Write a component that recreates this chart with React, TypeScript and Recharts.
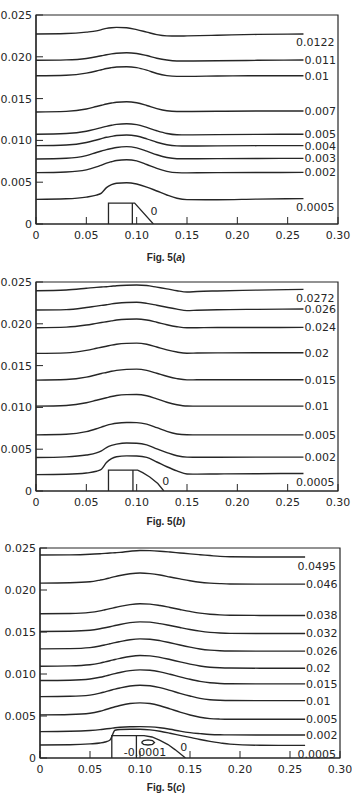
import React from 'react';
import { LineChart, Line, XAxis, YAxis, ReferenceArea, ReferenceDot } from 'recharts';

// ---------- shared axis data ----------
const xTicks = [0, 0.05, 0.1, 0.15, 0.2, 0.25, 0.3];
const xTickLabels = ['0', '0.05', '0.10', '0.15', '0.20', '0.25', '0.30'];
const yTicks = [0, 0.005, 0.01, 0.015, 0.02, 0.025];
const yTickLabels = ['0', '0.005', '0.010', '0.015', '0.020', '0.025'];

// ---------- Fig. 5(a) ----------
const xA = [0, 0.03, 0.05, 0.06, 0.065, 0.07, 0.075, 0.08, 0.09, 0.1, 0.11, 0.12, 0.13, 0.14, 0.15, 0.18, 0.22, 0.2657];
const labelsA = ['0.0122', '0.011', '0.01', '0.007', '0.005', '0.004', '0.003', '0.002', '0.0005'];
const a0122 = [0.02273, 0.02278, 0.02295, 0.0231, 0.02325, 0.0234, 0.02348, 0.02352, 0.02348, 0.02325, 0.02295, 0.02265, 0.0225, 0.02248, 0.0225, 0.02258, 0.02268, 0.02273];
const a011 = [0.01958, 0.01963, 0.0198, 0.02, 0.02012, 0.02025, 0.02035, 0.02043, 0.02049, 0.0204, 0.02015, 0.01983, 0.01961, 0.0195, 0.01949, 0.01952, 0.01958, 0.01961];
const a01 = [0.01774, 0.0178, 0.01805, 0.0183, 0.01845, 0.0186, 0.0187, 0.01878, 0.01881, 0.0187, 0.0184, 0.018, 0.01775, 0.01766, 0.01766, 0.0177, 0.01774, 0.01774];
const a007 = [0.0134, 0.01347, 0.01375, 0.01405, 0.0142, 0.01435, 0.01447, 0.01457, 0.01463, 0.0145, 0.01418, 0.0138, 0.01354, 0.01346, 0.01346, 0.01349, 0.01351, 0.01352];
const a005 = [0.01073, 0.01082, 0.0111, 0.01138, 0.01153, 0.01168, 0.01181, 0.01192, 0.012, 0.01188, 0.01155, 0.01115, 0.01083, 0.01068, 0.01066, 0.01069, 0.01072, 0.01073];
const a004 = [0.00937, 0.00945, 0.00975, 0.01005, 0.01021, 0.01037, 0.01048, 0.01058, 0.01065, 0.01052, 0.01018, 0.00978, 0.00948, 0.00935, 0.00933, 0.00935, 0.00937, 0.00937];
const a003 = [0.00777, 0.00786, 0.00818, 0.00855, 0.00873, 0.0089, 0.00903, 0.00915, 0.00925, 0.0091, 0.00872, 0.00828, 0.00795, 0.00781, 0.0078, 0.00782, 0.00784, 0.00785];
const a002 = [0.00614, 0.00622, 0.00648, 0.00683, 0.00705, 0.00728, 0.00745, 0.0076, 0.00769, 0.00755, 0.00712, 0.00665, 0.0063, 0.00614, 0.00612, 0.00614, 0.00616, 0.00617];
const a0005 = [0.00295, 0.00302, 0.00322, 0.00345, 0.0037, 0.00435, 0.0047, 0.00488, 0.00494, 0.00478, 0.00442, 0.00395, 0.00347, 0.00308, 0.00292, 0.0029, 0.00298, 0.00303];
const obstacleXA = [0.072, 0.072, 0.098, 0.1166];
const obstacleYA = [0, 0.0025, 0.0025, 0];
const dividerXA = [0.0957, 0.0957];
const dividerYA = [0, 0.0025];

// ---------- Fig. 5(b) ----------
const xB = [0, 0.03, 0.05, 0.06, 0.065, 0.07, 0.075, 0.08, 0.09, 0.1, 0.11, 0.12, 0.13, 0.14, 0.15, 0.16, 0.18, 0.22, 0.2657];
const labelsB = ['0.0272', '0.026', '0.024', '0.02', '0.015', '0.01', '0.005', '0.002', '0.0005'];
const b0272 = [0.02396, 0.02405, 0.02425, 0.02436, 0.0244, 0.02444, 0.0245, 0.02456, 0.02462, 0.02464, 0.02458, 0.02438, 0.02418, 0.02396, 0.0238, 0.02386, 0.02393, 0.02403, 0.02412];
const b026 = [0.02165, 0.0217, 0.02195, 0.02212, 0.0222, 0.02228, 0.02238, 0.02246, 0.02255, 0.02257, 0.02245, 0.02222, 0.02198, 0.02175, 0.02158, 0.02162, 0.02168, 0.02173, 0.02177];
const b024 = [0.01953, 0.0196, 0.01985, 0.02005, 0.02015, 0.02025, 0.02035, 0.02045, 0.02055, 0.02057, 0.02045, 0.02018, 0.01988, 0.01965, 0.01952, 0.01953, 0.01955, 0.01956, 0.01957];
const b02 = [0.01646, 0.01652, 0.01682, 0.01707, 0.0172, 0.01732, 0.01745, 0.01755, 0.01766, 0.01769, 0.01755, 0.01722, 0.01688, 0.01662, 0.01648, 0.0165, 0.01652, 0.01653, 0.01654];
const b015 = [0.01326, 0.01333, 0.01362, 0.0139, 0.01405, 0.01418, 0.01432, 0.01443, 0.01455, 0.01458, 0.01443, 0.01408, 0.01372, 0.01344, 0.01329, 0.0133, 0.0133, 0.0133, 0.0133];
const b01 = [0.01015, 0.01023, 0.01055, 0.01085, 0.011, 0.01115, 0.0113, 0.01142, 0.01153, 0.01155, 0.0114, 0.01102, 0.01062, 0.01032, 0.01016, 0.01015, 0.01015, 0.01015, 0.01015];
const b005 = [0.00671, 0.00678, 0.0071, 0.00745, 0.00765, 0.00785, 0.008, 0.00811, 0.00819, 0.00818, 0.008, 0.00758, 0.00713, 0.00682, 0.00672, 0.00671, 0.00671, 0.00671, 0.00671];
const b002 = [0.004, 0.00408, 0.0043, 0.00455, 0.0048, 0.0052, 0.00545, 0.0056, 0.00575, 0.00572, 0.00552, 0.00505, 0.0046, 0.00422, 0.00405, 0.00404, 0.00404, 0.00405, 0.00405];
const b0005 = [0.00196, 0.002, 0.00215, 0.00236, 0.0026, 0.0034, 0.00388, 0.0041, 0.0042, 0.00418, 0.00402, 0.00347, 0.0029, 0.0024, 0.00203, 0.00202, 0.00204, 0.00207, 0.0021];
const obstacleXB = [0.072, 0.072, 0.101, 0.106, 0.113, 0.121, 0.127];
const obstacleYB = [0, 0.0025, 0.0025, 0.0022, 0.00168, 0.0009, 0];
const dividerXB = [0.0963, 0.0963];
const dividerYB = [0, 0.0025];

// ---------- Fig. 5(c) ----------
const xC = [0, 0.03, 0.05, 0.06, 0.065, 0.07, 0.075, 0.08, 0.09, 0.1, 0.11, 0.12, 0.13, 0.14, 0.15, 0.16, 0.17, 0.18, 0.19, 0.22, 0.2651];
const labelsC = ['0.0495', '0.046', '0.038', '0.032', '0.026', '0.02', '0.015', '0.01', '0.005', '0.002', '0.0005'];
const c0495 = [0.02416, 0.02418, 0.02425, 0.02432, 0.02436, 0.0244, 0.02444, 0.02448, 0.02462, 0.02471, 0.02469, 0.02462, 0.02452, 0.02441, 0.0243, 0.0242, 0.0241, 0.024, 0.02395, 0.02392, 0.02392];
const c046 = [0.02082, 0.02086, 0.02098, 0.02118, 0.0213, 0.02145, 0.0216, 0.02173, 0.02193, 0.02202, 0.02195, 0.02178, 0.02155, 0.02132, 0.0211, 0.02092, 0.02082, 0.02076, 0.02072, 0.0207, 0.0207];
const c038 = [0.01717, 0.0172, 0.01733, 0.01752, 0.01765, 0.01778, 0.01792, 0.01805, 0.01826, 0.01836, 0.01832, 0.01815, 0.01792, 0.01768, 0.01745, 0.01725, 0.01712, 0.01704, 0.017, 0.01697, 0.01697];
const c032 = [0.01506, 0.01509, 0.0152, 0.01538, 0.0155, 0.01563, 0.01577, 0.0159, 0.01611, 0.01621, 0.01617, 0.016, 0.01577, 0.01553, 0.0153, 0.0151, 0.01496, 0.01488, 0.01484, 0.01482, 0.01482];
const c026 = [0.01299, 0.01302, 0.01314, 0.01333, 0.01346, 0.0136, 0.01374, 0.01386, 0.01408, 0.01418, 0.01414, 0.01397, 0.01372, 0.01345, 0.0132, 0.01298, 0.01284, 0.01277, 0.01274, 0.01272, 0.01272];
const c02 = [0.01093, 0.01097, 0.0111, 0.0113, 0.01144, 0.01158, 0.01173, 0.01186, 0.01209, 0.0122, 0.01216, 0.01198, 0.01172, 0.01144, 0.01118, 0.01096, 0.01081, 0.01074, 0.01071, 0.01069, 0.01069];
const c015 = [0.00922, 0.00926, 0.0094, 0.00961, 0.00975, 0.0099, 0.01005, 0.01018, 0.0104, 0.01049, 0.01044, 0.01025, 0.00997, 0.00966, 0.00937, 0.00912, 0.00895, 0.00887, 0.00884, 0.00882, 0.00882];
const c01 = [0.00731, 0.00735, 0.00749, 0.00772, 0.00788, 0.00804, 0.0082, 0.00834, 0.00857, 0.00866, 0.0086, 0.00838, 0.00805, 0.0077, 0.00738, 0.0071, 0.00694, 0.00687, 0.00684, 0.00683, 0.00683];
const c005 = [0.00513, 0.00518, 0.00533, 0.00557, 0.00574, 0.00592, 0.0061, 0.00625, 0.00648, 0.00656, 0.00648, 0.00622, 0.00585, 0.00546, 0.00512, 0.00485, 0.00469, 0.00463, 0.00461, 0.00461, 0.00461];
const c002 = [0.00314, 0.00318, 0.00328, 0.00338, 0.00345, 0.00352, 0.0036, 0.00366, 0.00372, 0.00373, 0.0037, 0.0036, 0.00342, 0.0032, 0.00302, 0.0029, 0.0028, 0.00276, 0.00275, 0.00274, 0.00274];
const c0005 = [0.00155, 0.00158, 0.00168, 0.00178, 0.0019, 0.00215, 0.0033, 0.0034, 0.00342, 0.00342, 0.00335, 0.00318, 0.00295, 0.0027, 0.00245, 0.0022, 0.00198, 0.0018, 0.00165, 0.00152, 0.0015];
const obstacleXC = [0.0718, 0.0718, 0.104, 0.112, 0.12, 0.128, 0.135, 0.1415, 0.1455];
const obstacleYC = [0, 0.00266, 0.00266, 0.0025, 0.0021, 0.0016, 0.001, 0.0004, 0];
const dividerXC = [0.0964, 0.0964];
const dividerYC = [0, 0.00266];
const loopXC = [0.1015, 0.1035, 0.108, 0.1125, 0.1145, 0.1125, 0.108, 0.1035, 0.1015];
const loopYC = [0.00185, 0.00207, 0.00215, 0.00207, 0.00185, 0.00163, 0.00155, 0.00163, 0.00185];

// ---------- styling ----------
const INK = '#262626';
const FONT = '"DejaVu Sans", sans-serif';
const FS = 11;

const toPoints = (xs: number[], ys: number[]) => xs.map((x, i) => ({ x, y: ys[i] }));

function XTick(props: any) {
  const { x, y, index } = props;
  return (
    <g>
      <line x1={x} x2={x} y1={y - 7} y2={y - 14} stroke={INK} strokeWidth={1} />
      <text x={x} y={y} dy="0.71em" textAnchor="middle" fontSize={FS} fill={INK} fontFamily={FONT}>
        {xTickLabels[index]}
      </text>
    </g>
  );
}

function YTick(props: any) {
  const { x, y, index } = props;
  return (
    <g>
      <line x1={x + 4} x2={x + 11} y1={y} y2={y} stroke={INK} strokeWidth={1} />
      <text x={x} y={y} dy="0.36em" textAnchor="end" fontSize={FS} fill={INK} fontFamily={FONT}>
        {yTickLabels[index]}
      </text>
    </g>
  );
}

function endLabel(text: string, below: boolean) {
  return (p: any) => {
    const { cx, cy } = p;
    if (below) {
      return (
        <text x={cx + 31} y={cy + 8.5} dy="0.36em" textAnchor="end" fontSize={FS} fill={INK} fontFamily={FONT}>
          {text}
        </text>
      );
    }
    return (
      <text x={cx + 1} y={cy} dy="0.36em" textAnchor="start" fontSize={FS} fill={INK} fontFamily={FONT}>
        {text}
      </text>
    );
  };
}

function noteLabel(text: string) {
  return (p: any) => (
    <text x={p.cx} y={p.cy} dy="0.36em" textAnchor="middle" fontSize={FS} fill={INK} fontFamily={FONT}>
      {text}
    </text>
  );
}

type PanelProps = {
  top: number;
  plotH: number;
  leftW: number;
  rightM: number;
  xs: number[];
  series: number[][];
  labels: string[];
  shapes: { x: number[]; y: number[] }[];
  notes: { x: number; y: number; text: string }[];
};

function Panel({ top, plotH, leftW, rightM, xs, series, labels, shapes, notes }: PanelProps) {
  const H = 15 + plotH + 30;
  const last = xs.length - 1;
  return (
    <div style={{ position: 'absolute', left: 0, top, width: 352, height: H }}>
      <LineChart width={352} height={H} margin={{ top: 15, right: rightM, bottom: 0, left: 0 }} style={{ fontFamily: FONT }}>
        <XAxis
          dataKey="x"
          type="number"
          domain={[0, 0.3]}
          ticks={xTicks}
          interval={0}
          tick={<XTick />}
          tickLine={false}
          tickSize={0}
          tickMargin={7}
          height={30}
          axisLine={{ stroke: INK, strokeWidth: 1.2 }}
          allowDataOverflow
        />
        <YAxis
          type="number"
          domain={[0, 0.025]}
          ticks={yTicks}
          interval={0}
          tick={<YTick />}
          tickLine={false}
          tickSize={0}
          tickMargin={4}
          width={leftW}
          axisLine={{ stroke: INK, strokeWidth: 1.2 }}
          allowDataOverflow
        />
        <ReferenceArea x1={0} x2={0.3} y1={0} y2={0.025} fill="none" stroke={INK} strokeWidth={1.2} />
        {series.map((ys, i) => (
          <Line
            key={'s' + i}
            data={toPoints(xs, ys)}
            dataKey="y"
            type="monotone"
            stroke={INK}
            strokeWidth={1.4}
            dot={false}
            activeDot={false}
            isAnimationActive={false}
          />
        ))}
        {shapes.map((s, i) => (
          <Line
            key={'o' + i}
            data={toPoints(s.x, s.y)}
            dataKey="y"
            type="linear"
            stroke={INK}
            strokeWidth={1.3}
            dot={false}
            activeDot={false}
            isAnimationActive={false}
          />
        ))}
        {series.map((ys, i) => (
          <ReferenceDot
            key={'l' + i}
            x={xs[last]}
            y={ys[last]}
            r={0}
            shape={endLabel(labels[i], i === 0 || i === series.length - 1)}
          />
        ))}
        {notes.map((n, i) => (
          <ReferenceDot key={'n' + i} x={n.x} y={n.y} r={0} shape={noteLabel(n.text)} />
        ))}
      </LineChart>
    </div>
  );
}

function Title({ top, tag }: { top: number; tag: string }) {
  return (
    <div
      style={{
        position: 'absolute',
        left: 0,
        width: 332,
        top,
        height: 12,
        lineHeight: '12px',
        textAlign: 'center',
        fontFamily: '"Liberation Sans", Arial, sans-serif',
        fontWeight: 'bold',
        fontSize: 10,
        color: INK,
      }}
    >
      Fig. 5(<i>{tag}</i>)
    </div>
  );
}

export default function App() {
  return (
    <div style={{ position: 'absolute', left: 0, top: 0, width: 352, height: 793, background: '#fff', overflow: 'hidden' }}>
      <Panel
        top={0}
        plotH={209}
        leftW={36}
        rightM={14}
        xs={xA}
        series={[a0122, a011, a01, a007, a005, a004, a003, a002, a0005]}
        labels={labelsA}
        shapes={[
          { x: obstacleXA, y: obstacleYA },
          { x: dividerXA, y: dividerYA },
        ]}
        notes={[{ x: 0.1172, y: 0.0016, text: '0' }]}
      />
      <Title top={252} tag="a" />
      <Panel
        top={267}
        plotH={209}
        leftW={36}
        rightM={14}
        xs={xB}
        series={[b0272, b026, b024, b02, b015, b01, b005, b002, b0005]}
        labels={labelsB}
        shapes={[
          { x: obstacleXB, y: obstacleYB },
          { x: dividerXB, y: dividerYB },
        ]}
        notes={[{ x: 0.129, y: 0.0012, text: '0' }]}
      />
      <Title top={516} tag="b" />
      <Panel
        top={533}
        plotH={210}
        leftW={40}
        rightM={12}
        xs={xC}
        series={[c0495, c046, c038, c032, c026, c02, c015, c01, c005, c002, c0005]}
        labels={labelsC}
        shapes={[
          { x: obstacleXC, y: obstacleYC },
          { x: dividerXC, y: dividerYC },
          { x: loopXC, y: loopYC },
        ]}
        notes={[
          { x: 0.105, y: 0.0007, text: '-0.0001' },
          { x: 0.1438, y: 0.00135, text: '0' },
        ]}
      />
      <Title top={782} tag="c" />
    </div>
  );
}
